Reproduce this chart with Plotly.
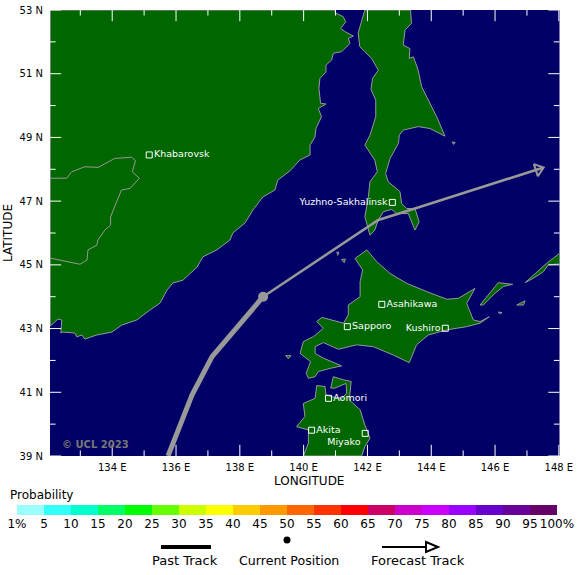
import plotly.graph_objects as go

WIDTH = 580
HEIGHT = 575
NAVY = "#000066"
LAND = "#006600"
GRAY = "#999999"

# coastlines, degrees
mainland_lon = [132.06, 132.06, 140.98, 140.98, 141.24, 141.32, 141.16, 141.30, 141.56, 141.40, 141.45, 141.19, 140.93,
                140.88, 140.70, 140.70, 140.51, 140.48, 140.53, 140.70, 140.46, 140.56, 140.39, 140.35, 140.20, 140.20,
                139.88, 139.57, 139.19, 139.10, 138.72, 138.41, 138.16, 137.78, 137.69, 137.28, 136.84, 136.66, 136.22,
                135.90, 135.72, 135.50, 135.18, 134.77, 134.30, 133.99, 133.52, 133.14, 133.05, 132.89, 132.83, 132.45,
                132.39, 132.42, 132.30, 132.06]
mainland_lat = [43.08, 53.00, 53.00, 52.92, 52.79, 52.63, 52.42, 52.32, 52.18, 52.11, 51.95, 51.69, 51.64,
                51.43, 51.27, 51.06, 50.85, 50.54, 50.07, 50.05, 49.91, 49.65, 49.29, 49.00, 48.76, 48.45,
                48.29, 47.95, 47.66, 47.35, 47.13, 46.72, 46.31, 46.00, 45.78, 45.47, 45.25, 44.93, 44.52,
                44.43, 44.21, 43.80, 43.58, 43.27, 43.11, 42.89, 42.80, 42.67, 42.80, 42.74, 42.86, 42.89,
                42.86, 43.27, 43.30, 43.08]

sakhalin_lon = [141.92, 141.71, 141.76, 142.13, 142.34, 142.16, 142.11, 142.26, 142.26, 142.08, 141.92, 142.23, 142.31,
                142.08, 142.03, 141.92, 142.08, 142.23, 142.34, 142.50, 142.76, 142.91, 143.28, 143.49, 143.62, 143.49,
                143.23, 143.07, 143.02, 142.65, 142.57, 142.71, 142.97, 143.00, 143.12, 143.59, 143.96, 144.43, 144.17,
                143.96, 143.70, 143.59, 143.44, 143.31, 143.33, 143.12, 143.18, 143.38, 143.35, 141.92]
sakhalin_lat = [53.00, 52.28, 51.85, 51.48, 51.11, 50.85, 50.51, 50.17, 49.65, 49.07, 48.76, 48.29, 47.92,
                47.61, 47.14, 46.51, 45.93, 46.09, 46.41, 46.67, 46.74, 46.61, 46.61, 46.09, 46.35, 46.77,
                46.77, 46.93, 47.30, 47.61, 47.87, 48.34, 48.81, 49.07, 49.23, 49.34, 49.28, 49.04, 49.65,
                50.07, 50.59, 51.11, 51.53, 51.48, 51.79, 51.90, 52.37, 52.58, 53.00, 53.00]

hokkaido_lon = [141.98, 142.29, 142.71, 143.23, 143.86, 144.49, 144.85, 145.37, 145.11, 145.32, 145.53, 145.82, 145.53,
                145.11, 144.80, 144.49, 143.91, 143.54, 143.31, 142.81, 142.19, 141.66, 141.09, 140.62, 140.36, 140.36,
                140.62, 141.19, 140.83, 140.46, 140.36, 140.15, 140.08, 140.22, 139.89, 139.99, 140.31, 140.62, 140.41,
                140.57, 141.25, 141.40, 141.40, 141.77, 141.77, 141.85, 141.61, 141.82, 141.98]
hokkaido_lat = [45.47, 45.10, 44.73, 44.42, 44.16, 43.92, 43.95, 44.26, 43.79, 43.27, 43.22, 43.37, 43.17,
                43.06, 43.01, 42.96, 42.80, 42.49, 41.93, 42.17, 42.43, 42.49, 42.35, 42.56, 42.43, 42.22,
                42.07, 41.83, 41.75, 41.65, 41.49, 41.44, 41.60, 41.96, 42.22, 42.59, 42.75, 43.01, 43.22,
                43.35, 43.17, 43.43, 43.74, 44.00, 44.47, 44.84, 45.20, 45.36, 45.47]

honshu_lon = [139.99, 140.15, 140.15, 139.78, 140.04, 139.99, 140.36, 140.41, 140.67, 140.70, 140.88, 141.19, 141.35,
              141.33, 140.98, 140.85, 140.93, 141.25, 141.49, 141.43, 141.77, 141.92, 142.08, 141.92, 141.82, 139.99]
honshu_lat = [39.00, 39.40, 39.82, 39.92, 40.24, 40.65, 40.81, 41.21, 41.18, 40.92, 40.86, 40.81, 40.97,
              41.28, 41.13, 41.13, 41.49, 41.39, 41.34, 40.76, 40.45, 39.97, 39.56, 39.30, 39.00, 39.00]

kunashir_lon = [145.53, 145.84, 146.10, 146.55, 146.26, 146.00, 145.63, 145.53]
kunashir_lat = [43.74, 44.11, 44.44, 44.39, 44.32, 44.11, 43.74, 43.74]
shikotan_lon = [146.68, 146.94, 146.89, 146.68]
shikotan_lat = [43.74, 43.87, 43.74, 43.74]
iturup_lon = [146.94, 147.25, 147.62, 148.02, 148.02, 147.67, 147.52, 147.20, 146.94]
iturup_lat = [44.44, 44.73, 45.05, 45.36, 45.03, 45.00, 44.79, 44.58, 44.44]
islet_lon = [[144.66, 144.75, 144.70, 144.66], [146.10, 146.22, 146.16, 146.10], [141.19, 141.31, 141.27, 141.19],
             [141.04, 141.10, 141.07, 141.04], [139.44, 139.60, 139.52, 139.44]]
islet_lat = [[48.86, 48.84, 48.78, 48.86], [43.52, 43.50, 43.46, 43.52], [45.17, 45.18, 45.07, 45.17],
             [45.40, 45.40, 45.30, 45.40], [42.15, 42.15, 42.05, 42.15]]

border_lon = [132.06, 132.57, 132.73, 133.14, 133.56, 134.08, 134.61, 134.73, 134.63, 134.85, 134.56, 134.29, 134.14,
              133.95, 133.95, 133.77, 133.55, 133.52, 133.24, 133.21, 132.99, 132.06]
border_lat = [47.72, 47.72, 47.92, 48.08, 48.06, 48.34, 48.38, 48.27, 47.92, 47.72, 47.40, 47.35, 46.98,
              46.51, 46.25, 46.09, 45.78, 45.62, 45.47, 45.15, 45.02, 45.21]

# storm track
past_lon = [135.75, 136.50, 137.13, 138.73]
past_lat = [39.00, 40.91, 42.12, 44.00]
forecast_lon = [138.73, 142.34, 143.49, 147.50]
forecast_lat = [44.00, 46.41, 46.77, 48.05]
head_lon = [147.36]
head_lat = [48.00]

city_names = ["Khabarovsk", "Yuzhno-Sakhalinsk", "Asahikawa", "Sapporo", "Kushiro", "Aomori", "Akita", "Miyako"]
city_lon = [135.16, 142.78, 142.45, 141.37, 144.44, 140.78, 140.25, 141.93]
city_lat = [48.45, 46.96, 43.76, 43.06, 43.01, 40.81, 39.81, 39.71]
city_pos = ["middle right", "middle left", "middle right", "middle right", "middle left", "middle right",
            "middle right", "bottom left"]

lon_ticks = [134, 136, 138, 140, 142, 144, 146, 148]
lat_ticks = [39, 41, 43, 45, 47, 49, 51, 53]
lon_minor = [133, 135, 137, 139, 141, 143, 145, 147]
lat_minor = [40, 42, 44, 46, 48, 50, 52]

prob_labels = ["1%", "5", "10", "15", "20", "25", "30", "35", "40", "45", "50",
               "55", "60", "65", "70", "75", "80", "85", "90", "95", "100%"]
prob_colors = ["#99FFFF", "#33FFFF", "#00FFCC", "#00FF66", "#00FF00", "#66FF00", "#CCFF00", "#FFFF00", "#FFCC00",
               "#FF9900", "#FF6600", "#FF3300", "#FF0000", "#CC0066", "#CC00CC", "#CC00FF", "#9900FF", "#6600CC",
               "#660099", "#660066"]

LEFT, RIGHT, TOP, BOTTOM = 50, 559.5, 10, 456
X_RANGE = [132.05, 148.02]
Y_RANGE = [39, 53]


def px(x):
    return x / WIDTH


def py(y):
    return 1 - y / HEIGHT


def label(x, y, text, size=12, color="black", **kw):
    return dict(xref="paper", yref="paper", x=px(x), y=py(y), text=text, showarrow=False,
                font=dict(size=size, color=color), xanchor="center", yanchor="middle", **kw)


def add_frame_ticks(fig, lons, lats, length):
    # line markers centred on the frame; the plot clips the outer half so they point inward
    ns = dict(symbol="line-ns", size=length * 2, line=dict(color="white", width=1))
    ew = dict(symbol="line-ew", size=length * 2, line=dict(color="white", width=1))
    for edge in Y_RANGE:
        fig.add_trace(go.Scatter(x=lons, y=[edge] * len(lons), mode="markers", marker=ns, hoverinfo="skip"))
    for edge in X_RANGE:
        fig.add_trace(go.Scatter(x=[edge] * len(lats), y=lats, mode="markers", marker=ew, hoverinfo="skip"))


fig = go.Figure()

lands = [(mainland_lon, mainland_lat), (sakhalin_lon, sakhalin_lat), (hokkaido_lon, hokkaido_lat),
         (honshu_lon, honshu_lat), (kunashir_lon, kunashir_lat), (shikotan_lon, shikotan_lat),
         (iturup_lon, iturup_lat)] + list(zip(islet_lon, islet_lat))
for lon, lat in lands:
    fig.add_trace(go.Scatter(x=lon, y=lat, mode="lines", fill="toself", fillcolor=LAND,
                             line=dict(color=GRAY, width=1), hoverinfo="skip"))

fig.add_trace(go.Scatter(x=border_lon, y=border_lat, mode="lines", line=dict(color=GRAY, width=1), hoverinfo="skip"))

add_frame_ticks(fig, lon_ticks, lat_ticks, 8)
add_frame_ticks(fig, lon_minor, lat_minor, 4)

fig.add_trace(go.Scatter(x=forecast_lon, y=forecast_lat, mode="lines", line=dict(color=GRAY, width=2.5)))
fig.add_trace(go.Scatter(x=past_lon, y=past_lat, mode="lines", line=dict(color=GRAY, width=5)))
fig.add_trace(go.Scatter(x=past_lon[-1:], y=past_lat[-1:], mode="markers", marker=dict(color=GRAY, size=10)))
fig.add_trace(go.Scatter(x=head_lon, y=head_lat, mode="markers",
                         marker=dict(symbol="triangle-up-open", size=11, angle=72, color=GRAY,
                                     line=dict(color=GRAY, width=2))))

fig.add_trace(go.Scatter(x=city_lon, y=city_lat, mode="markers+text", text=city_names, textposition=city_pos,
                         textfont=dict(color="white", size=9.5),
                         marker=dict(symbol="square-open", size=6, color="white", line=dict(color="white", width=1))))

fig.add_trace(go.Bar(x=[i + 0.5 for i in range(len(prob_colors))], y=[1] * len(prob_colors), width=1,
                     marker=dict(color=prob_colors, line=dict(width=0)), xaxis="x2", yaxis="y2", hoverinfo="skip"))

fig.update_layout(
    width=WIDTH, height=HEIGHT,
    margin=dict(l=0, r=0, t=0, b=0),
    showlegend=False,
    hovermode=False,
    paper_bgcolor="white", plot_bgcolor=NAVY,
    font=dict(family="DejaVu Sans", color="black"),
    xaxis=dict(domain=[px(LEFT), px(RIGHT)], range=X_RANGE, showgrid=False, zeroline=False, automargin=False,
               tickvals=lon_ticks, ticktext=[f"{v} E" for v in lon_ticks], tickfont=dict(size=10),
               ticks="", ticklabelstandoff=4),
    yaxis=dict(domain=[py(BOTTOM), py(TOP)], range=Y_RANGE, showgrid=False, zeroline=False, automargin=False,
               tickvals=lat_ticks, ticktext=[f"{v} N" for v in lat_ticks], tickfont=dict(size=10),
               ticks="", ticklabelstandoff=6),
    xaxis2=dict(domain=[px(17), px(557)], range=[0, 20], anchor="y2", showgrid=False, zeroline=False, automargin=False,
                tickvals=list(range(len(prob_labels))), ticktext=prob_labels, tickfont=dict(size=12),
                tickangle=0, ticks=""),
    yaxis2=dict(domain=[py(515), py(505)], range=[0, 1], anchor="x2", showgrid=False, zeroline=False, automargin=False,
                showticklabels=False, ticks=""),
    bargap=0,
    annotations=[
        label(8, 233, "LATITUDE", textangle=-90),
        label(309, 481, "LONGITUDE"),
        label(95, 444.5, "<b>© UCL 2023</b>", size=10, color="#777777"),
        label(41, 495, "Probability"),
        label(185, 560, "Past Track", size=13),
        label(289, 560, "Current Position", size=12.6),
        label(418, 560, "Forecast Track", size=13),
    ],
    shapes=[
        dict(type="line", xref="paper", yref="paper", x0=px(161), x1=px(211), y0=py(547), y1=py(547),
             line=dict(color="black", width=4)),
        dict(type="circle", xref="paper", yref="paper", x0=px(283.5), x1=px(290.5), y0=py(543.5), y1=py(536.5),
             fillcolor="black", line=dict(width=0)),
        dict(type="line", xref="paper", yref="paper", x0=px(382), x1=px(426), y0=py(547), y1=py(547),
             line=dict(color="black", width=2)),
        dict(type="path", xref="paper", yref="paper",
             path=f"M {px(426)} {py(542)} L {px(438)} {py(547)} L {px(426)} {py(552)} Z",
             line=dict(color="black", width=2)),
    ],
)

fig.write_html("out.html", config=dict(displayModeBar=False), post_script="document.body.style.margin='0';")
